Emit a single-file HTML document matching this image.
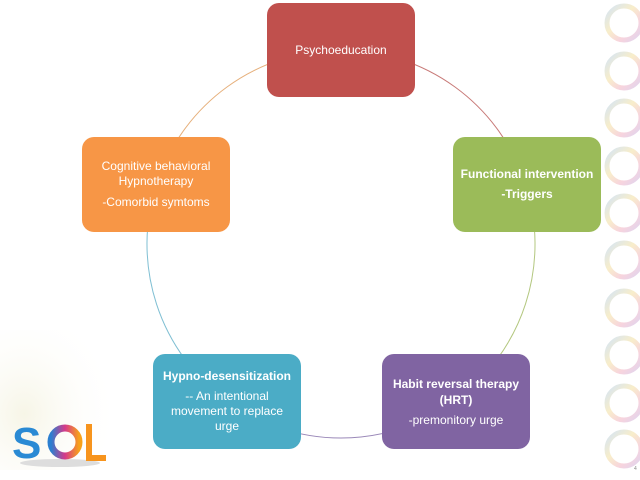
<!DOCTYPE html>
<html><head><meta charset="utf-8"><style>
html,body{margin:0;padding:0;background:#fff;}
svg{display:block;font-family:"Liberation Sans",sans-serif;}
</style></head><body>
<svg width="640" height="480" viewBox="0 0 640 480" xmlns="http://www.w3.org/2000/svg">
<defs>
<linearGradient id="rg" x1="0" y1="0" x2="1" y2="1">
<stop offset="0" stop-color="#b9d3ef"/><stop offset="0.4" stop-color="#f4e3a8"/><stop offset="0.7" stop-color="#f3b8c8"/><stop offset="1" stop-color="#c9b8e6"/>
</linearGradient>
<linearGradient id="so" x1="0" y1="0" x2="1" y2="0">
<stop offset="0" stop-color="#2b7fd0"/><stop offset="0.5" stop-color="#d63a8a"/><stop offset="1" stop-color="#f7a11a"/>
</linearGradient>
<radialGradient id="glow" cx="0.2" cy="0.6" r="0.8">
<stop offset="0" stop-color="#f3f1dc" stop-opacity="0.7"/><stop offset="1" stop-color="#fff" stop-opacity="0"/>
</radialGradient>
</defs>
<g fill="none" stroke="url(#rg)" stroke-width="5" opacity="0.6">
<circle cx="624" cy="23" r="17"/><circle cx="624" cy="71" r="17"/><circle cx="624" cy="118" r="17"/>
<circle cx="624" cy="166" r="17"/><circle cx="624" cy="213" r="17"/><circle cx="624" cy="260" r="17"/>
<circle cx="624" cy="308" r="17"/><circle cx="624" cy="355" r="17"/><circle cx="624" cy="403" r="17"/>
<circle cx="624" cy="449" r="17"/>
</g>
<rect x="0" y="330" width="120" height="140" fill="url(#glow)"/>
<g fill="none" stroke-width="1">
<path d="M341 50 A194 194 0 0 1 525.5 184" stroke="#c87a78"/>
<path d="M525.5 184 A194 194 0 0 1 455 401" stroke="#b3c77f"/>
<path d="M455 401 A194 194 0 0 1 227 401" stroke="#9a88b8"/>
<path d="M227 401 A194 194 0 0 1 156.5 184" stroke="#7fbfd3"/>
<path d="M156.5 184 A194 194 0 0 1 341 50" stroke="#e6b07c"/>
</g>
<rect x="267" y="3" width="148" height="94" rx="12" fill="#c0504d"/>
<rect x="453" y="137" width="148" height="95" rx="12" fill="#9bbb59"/>
<rect x="382" y="354" width="148" height="95" rx="12" fill="#8064a2"/>
<rect x="153" y="354" width="148" height="95" rx="12" fill="#4bacc6"/>
<rect x="82" y="137" width="148" height="95" rx="12" fill="#f79646"/>
<g fill="#fff" font-size="12" text-anchor="middle">
<text x="341" y="54">Psychoeducation</text>
<text x="527" y="178" font-weight="bold">Functional intervention</text>
<text x="527" y="198" font-weight="bold">-Triggers</text>
<text x="456" y="388" font-weight="bold">Habit reversal therapy</text>
<text x="456" y="404" font-weight="bold">(HRT)</text>
<text x="456" y="424">-premonitory urge</text>
<text x="227" y="380" font-weight="bold">Hypno-desensitization</text>
<text x="227" y="400">-- An intentional</text>
<text x="227" y="415">movement to replace</text>
<text x="227" y="430">urge</text>
<text x="156" y="170">Cognitive behavioral</text>
<text x="156" y="185">Hypnotherapy</text>
<text x="156" y="206">-Comorbid symtoms</text>
</g>
<ellipse cx="60" cy="463" rx="40" ry="4" fill="#ddd"/>
<text x="12" y="458" font-size="44" font-weight="bold" fill="#2a8ad4">S</text>
<circle cx="65" cy="442" r="14" fill="none" stroke="url(#so)" stroke-width="7"/>
<path d="M89 424 L89 458 L106 458" fill="none" stroke="#f7941d" stroke-width="6"/>
<text x="634" y="470" font-size="5" fill="#888">4</text>
</svg>
</body></html>
